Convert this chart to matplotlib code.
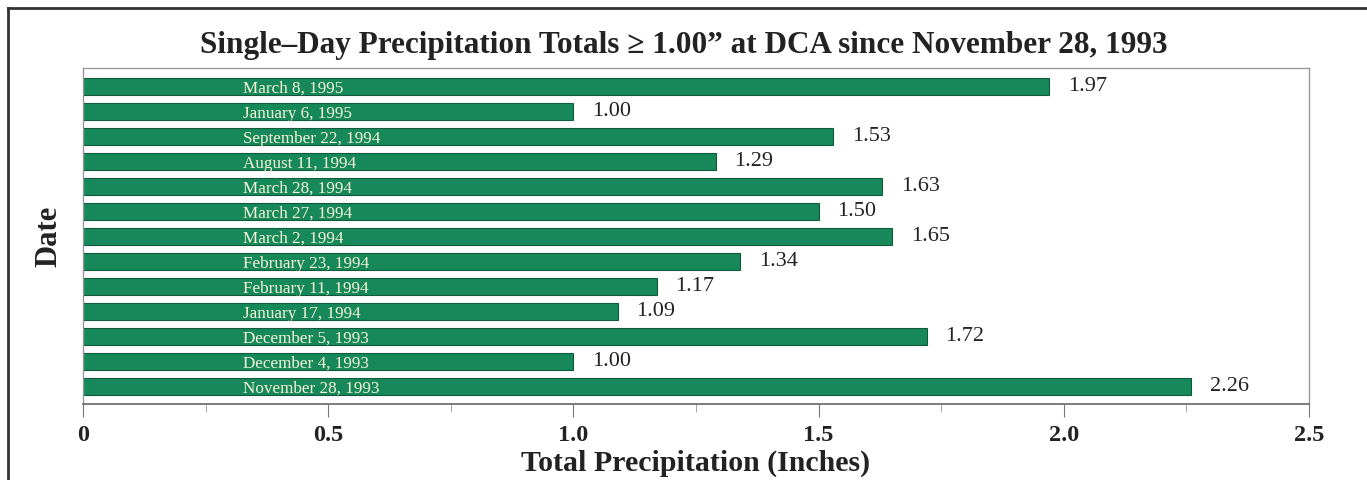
#______importing libraries__________
import matplotlib.pyplot as plt
from matplotlib.ticker import MultipleLocator
from matplotlib.lines import Line2D

#______chart data (top bar first)__________
dates = ["March 8, 1995", "January 6, 1995", "September 22, 1994", "August 11, 1994",
         "March 28, 1994", "March 27, 1994", "March 2, 1994", "February 23, 1994",
         "February 11, 1994", "January 17, 1994", "December 5, 1993", "December 4, 1993",
         "November 28, 1993"]
precip = [1.97, 1.00, 1.53, 1.29, 1.63, 1.50, 1.65, 1.34, 1.17, 1.09, 1.72, 1.00, 2.26]
x_ticks = [0, 0.5, 1.0, 1.5, 2.0, 2.5]
x_tick_labels = ["0", "0.5", "1.0", "1.5", "2.0", "2.5"]

plt.rcParams["font.family"] = ["Liberation Serif", "DejaVu Serif"]

fig = plt.figure(figsize=(13.67, 4.8), dpi=100)
ax = fig.add_axes([0.0607, 0.1583, 0.8969, 0.70])

#______bars__________
pos = list(range(len(dates)))
ax.barh(pos, precip, height=0.68, color="#16885a", edgecolor="#0f5c3c", linewidth=0.8)

# date names written inside each bar, values after the bar end
for i, (d, v) in enumerate(zip(dates, precip)):
    ax.text(0.326, i + 0.1, d, color="#f7f5d8", fontsize=12.3, va="center", ha="left")
    ax.text(v + 0.038, i - 0.02, f"{v:.2f}", color="#222222", fontsize=16, va="center", ha="left")

#______axes styling__________
ax.set_xlim(0, 2.5)
ax.set_ylim(12.7, -0.74)
ax.set_xticks(x_ticks)
ax.set_xticklabels(x_tick_labels, fontsize=17.5, fontweight="bold", color="#222222")
ax.xaxis.set_minor_locator(MultipleLocator(0.25))
ax.tick_params(axis="x", which="major", length=9, color="#777777", pad=6)
ax.tick_params(axis="x", which="minor", length=6, color="#999999")
ax.set_yticks([])

for side in ["top", "right", "left"]:
    ax.spines[side].set_color("#999999")
    ax.spines[side].set_linewidth(1.0)
ax.spines["bottom"].set_color("#666666")
ax.spines["bottom"].set_linewidth(1.2)

ax.set_xlabel("Total Precipitation (Inches)", fontsize=21.5, fontweight="bold", color="#222222", labelpad=3)
ax.set_ylabel("Date", fontsize=22, fontweight="bold", color="#222222", labelpad=14)

fig.text(0.5, 0.906, "Single\u2013Day Precipitation Totals \u2265 1.00\u201d at DCA since November 28, 1993",
         ha="center", va="center", fontsize=22.5, fontweight="bold", color="#222222")

#______outer frame (left and top edges)__________
fig.add_artist(Line2D([8 / 1367, 8 / 1367], [0, 1 - 8 / 480], transform=fig.transFigure,
                      color="#333333", linewidth=2))
fig.add_artist(Line2D([8 / 1367, 1], [1 - 8 / 480, 1 - 8 / 480], transform=fig.transFigure,
                      color="#333333", linewidth=2))

plt.savefig("out.png", dpi=100)
